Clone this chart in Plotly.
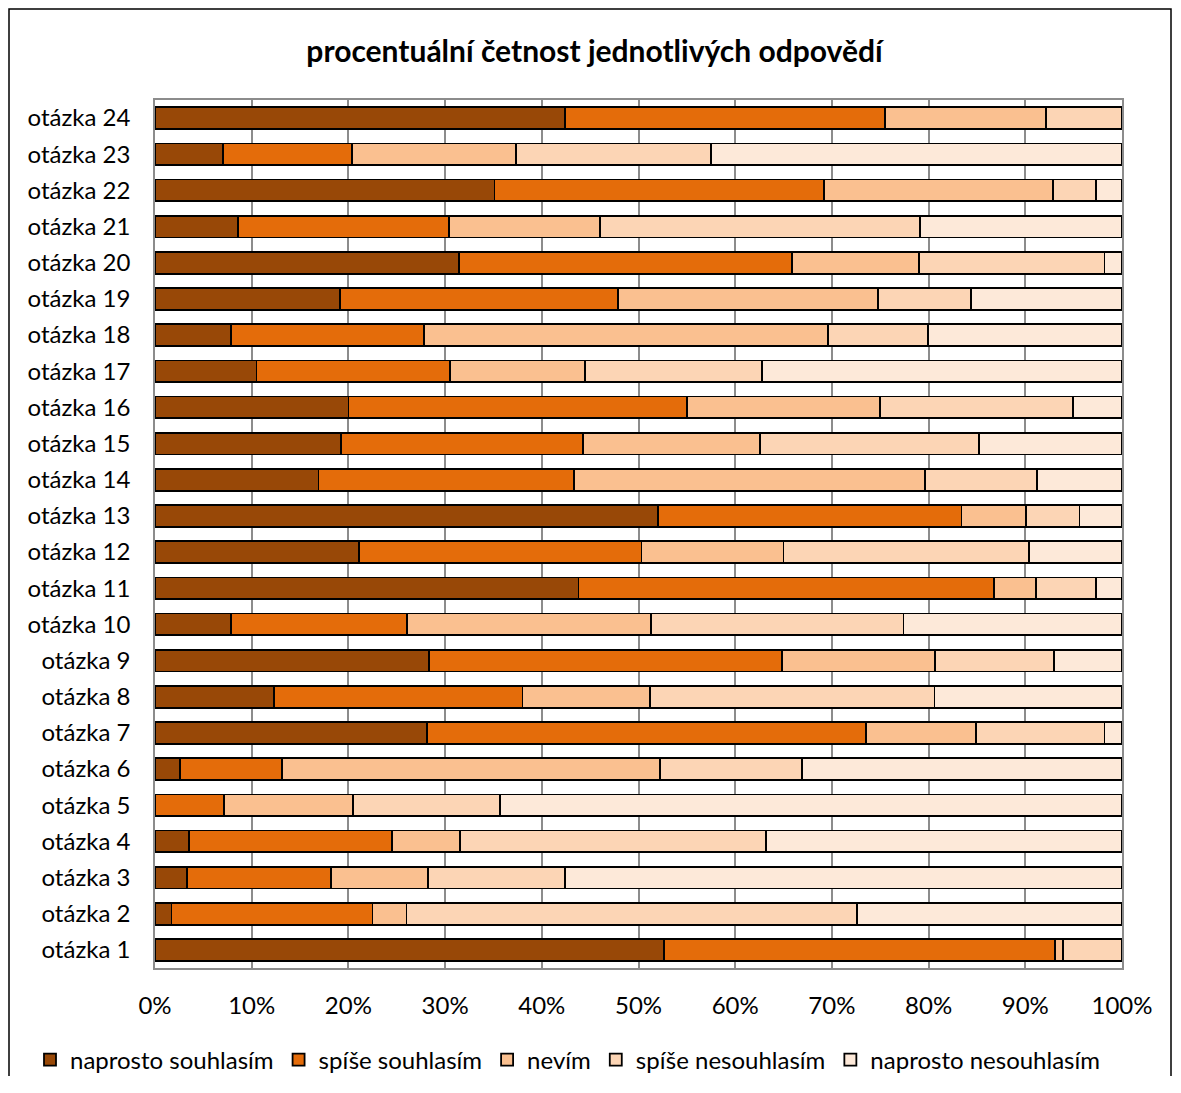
import plotly.graph_objects as go

# kategorie (otázky) odspodu nahoru
questions = [f"otázka {i}" for i in range(1, 25)]

answers = ["naprosto souhlasím", "spíše souhlasím", "nevím",
           "spíše nesouhlasím", "naprosto nesouhlasím"]
colors = ["#984807", "#E46C0A", "#FAC090", "#FCD5B5", "#FDE9D9"]

# procenta, otázka 1 .. otázka 24
naprosto_souhlasim = [52.6, 1.7, 3.3, 3.5, 0.0, 2.6, 28.1, 12.3, 28.3, 7.9, 43.8, 21.1,
                      52.0, 16.9, 19.2, 20.0, 10.5, 7.9, 19.1, 31.4, 8.6, 35.1, 7.0, 42.4]
spise_souhlasim = [40.5, 20.8, 14.9, 21.0, 7.1, 10.5, 45.4, 25.7, 36.5, 18.2, 43.0, 29.2,
                   31.4, 26.4, 25.1, 35.0, 20.0, 19.9, 28.8, 34.5, 21.8, 34.1, 13.4, 33.1]
nevim = [0.8, 3.5, 10.0, 7.0, 13.4, 39.1, 11.4, 13.2, 15.9, 25.2, 4.3, 14.7,
         6.7, 36.3, 18.3, 20.0, 14.0, 41.8, 26.9, 13.1, 15.6, 23.7, 16.9, 16.6]
spise_nesouhlasim = [6.1, 46.6, 14.2, 31.7, 15.2, 14.7, 13.3, 29.4, 12.3, 26.1, 6.2, 25.4,
                     5.5, 11.6, 22.6, 19.9, 18.3, 10.3, 9.6, 19.2, 33.1, 4.4, 20.2, 7.9]
naprosto_nesouhlasim = [0.0, 27.4, 57.6, 36.8, 64.3, 33.1, 1.8, 19.4, 7.0, 22.6, 2.7, 9.6,
                        4.4, 8.8, 14.8, 5.1, 37.2, 20.1, 15.6, 1.8, 20.9, 2.7, 42.5, 0.0]

series = [naprosto_souhlasim, spise_souhlasim, nevim, spise_nesouhlasim, naprosto_nesouhlasim]

x_ticks = [0, 10, 20, 30, 40, 50, 60, 70, 80, 90, 100]
x_tick_labels = [f"{v}%" for v in x_ticks]

FONT = "Lato, 'Open Sans', sans-serif"

fig = go.Figure()
for name, vals, col in zip(answers, series, colors):
    fig.add_trace(go.Bar(
        y=questions,
        x=vals,
        name=name,
        orientation="h",
        marker=dict(color=col, line=dict(color="black", width=1.8)),
    ))

# stránka má 8px okraj body -> graf je menší, aby nevznikl posuvník
W, H = 1173, 1068
fig.update_layout(
    barmode="stack",
    bargap=0.4,
    width=W,
    height=H,
    margin=dict(l=147, r=59, t=92, b=H - 92 - 868, autoexpand=False),
    paper_bgcolor="white",
    plot_bgcolor="white",
    font=dict(family=FONT, size=24, color="black"),
    title=dict(
        text="<b>procentuální četnost jednotlivých odpovědí</b>",
        font=dict(family=FONT, size=30, color="black"),
        x=0.5, xanchor="center", xref="container",
        y=1 - 43 / H, yanchor="middle",
    ),
    # legenda začíná vlevo od osy, aby se vešla do jednoho řádku
    legend=dict(
        orientation="h",
        xref="paper", x=(30 - 155) / 967, xanchor="left",
        y=-0.106, yanchor="middle",
        font=dict(family=FONT, size=24, color="black"),
        traceorder="normal",
        itemwidth=30,
    ),
    showlegend=True,
)

fig.update_xaxes(
    range=[0, 100],
    tickvals=x_ticks,
    ticktext=x_tick_labels,
    showgrid=True,
    gridcolor="#8c8c8c",
    gridwidth=1.5,
    showline=True,
    linecolor="#8c8c8c",
    linewidth=1.5,
    mirror=True,
    zeroline=False,
    ticks="",
    ticklabelstandoff=15,
    tickfont=dict(family=FONT, size=24, color="black"),
)
fig.update_yaxes(
    categoryorder="array",
    categoryarray=questions,
    showgrid=False,
    showline=True,
    linecolor="#8c8c8c",
    linewidth=1.5,
    mirror=True,
    ticks="",
    ticklabelstandoff=18,
    tickfont=dict(family=FONT, size=24, color="black"),
)

# rámeček kolem celého grafu
fig.add_shape(
    type="rect", xref="paper", yref="paper",
    x0=(9 - 155) / 967, x1=(1171 - 155) / 967,
    y0=(968 - 1110) / 868, y1=(968 - 9) / 868,
    line=dict(color="black", width=1.5),
    fillcolor="rgba(0,0,0,0)",
    layer="below",
)

fig.write_html("out.html")
